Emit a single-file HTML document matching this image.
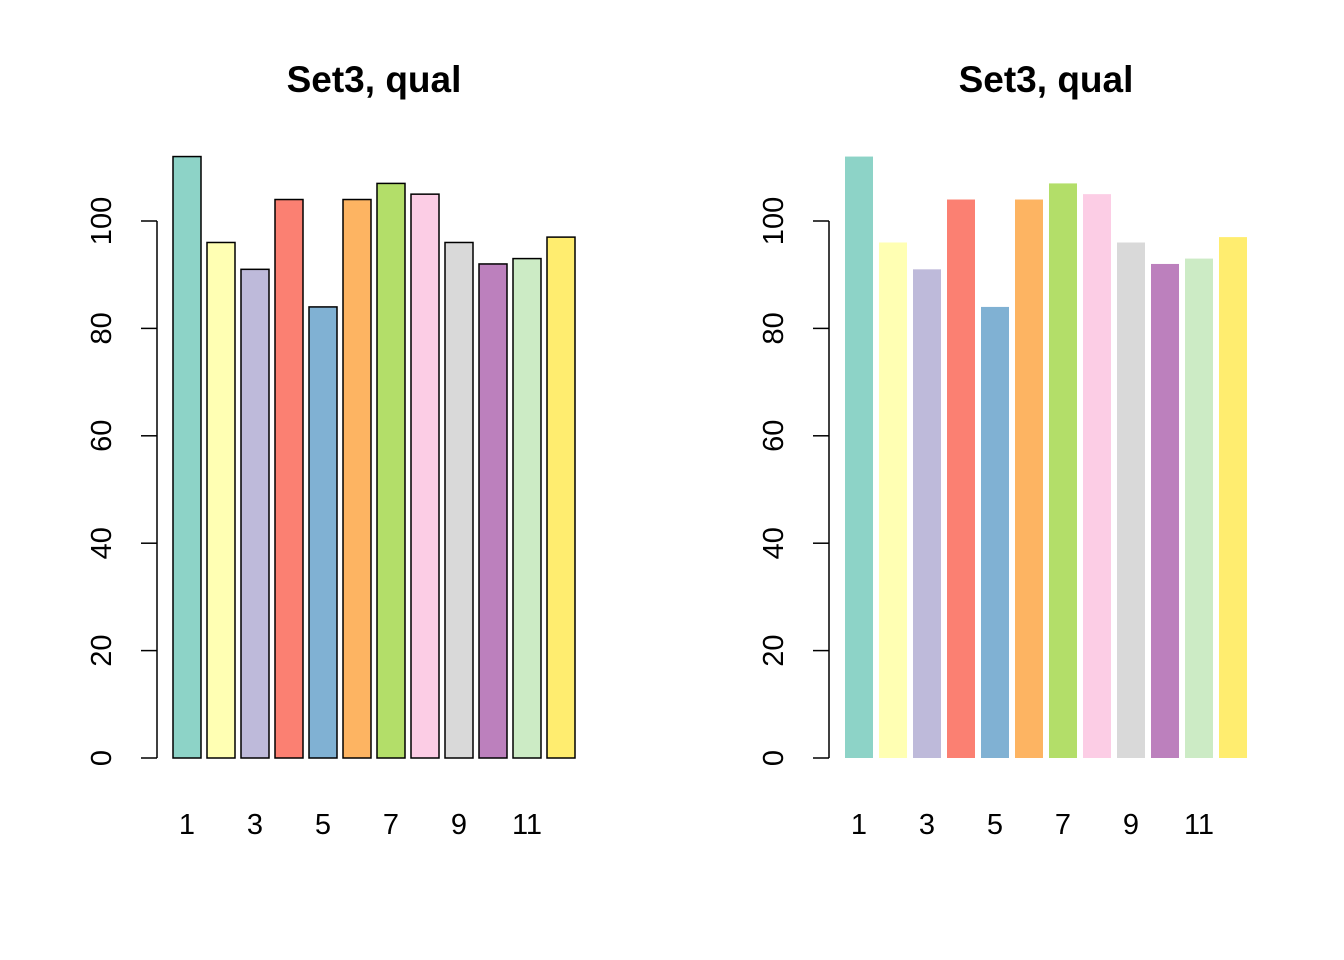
<!DOCTYPE html>
<html><head><meta charset="utf-8"><style>
html,body{margin:0;padding:0;background:#fff;}
svg{display:block;font-family:"Liberation Sans",Arial,sans-serif;}
</style></head><body>
<svg id="chart" width="1344" height="960"></svg>
<script>
const categories = [1,2,3,4,5,6,7,8,9,10,11,12];
const values = [112,96,91,104,84,104,107,105,96,92,93,97];
const colors = ["#8DD3C7","#FFFFB3","#BEBADA","#FB8072","#80B1D3","#FDB462","#B3DE69","#FCCDE5","#D9D9D9","#BC80BD","#CCEBC5","#FFED6F"];
const yTicks = [0,20,40,60,80,100];
const xTickLabels = [1,3,5,7,9,11];
const titles = ["Set3, qual","Set3, qual"];

const NS = "http://www.w3.org/2000/svg";
const svg = document.getElementById("chart");
function y(v){ return 758 - v*5.37; }
function mk(tag, attrs, parent){
  const e = document.createElementNS(NS, tag);
  for (const k in attrs) e.setAttribute(k, attrs[k]);
  (parent||svg).appendChild(e);
  return e;
}
[0,1].forEach(p=>{
  const off = p*672;
  const g = mk("g",{});
  
  
  const bx = i => 173 + off + 34*i;
  const t = mk("text",{x:374+off,y:92,"text-anchor":"middle","font-size":"37","font-weight":"bold"},g);
  t.textContent = titles[p];
  
  
  categories.forEach((c,i)=>{
    const r = mk("rect",{x:bx(i),y:y(values[i]),width:28,height:y(0)-y(values[i]),fill:colors[i]},g);
    if(p===0){ r.setAttribute("stroke","#000"); r.setAttribute("stroke-width","1.5"); }
    
    
  });
  const ax = mk("line",{x1:157+off,x2:157+off,y1:y(0),y2:y(100),stroke:"#000","stroke-width":"1.5"},g);
  
  
  yTicks.forEach(v=>{
    const tk = mk("line",{x1:141+off,x2:157+off,y1:y(v),y2:y(v),stroke:"#000","stroke-width":"1.5"},g);
    
    
    const tl = mk("text",{x:0,y:0,"text-anchor":"middle","font-size":"29",transform:`translate(${111+off},${y(v)}) rotate(-90)`},g);
    tl.textContent = v;
    
    
  });
  xTickLabels.forEach(c=>{
    const xl = mk("text",{x:bx(c-1)+14,y:834,"text-anchor":"middle","font-size":"29"},g);
    xl.textContent = c;
    
    
  });
});
</script>
</body></html>
